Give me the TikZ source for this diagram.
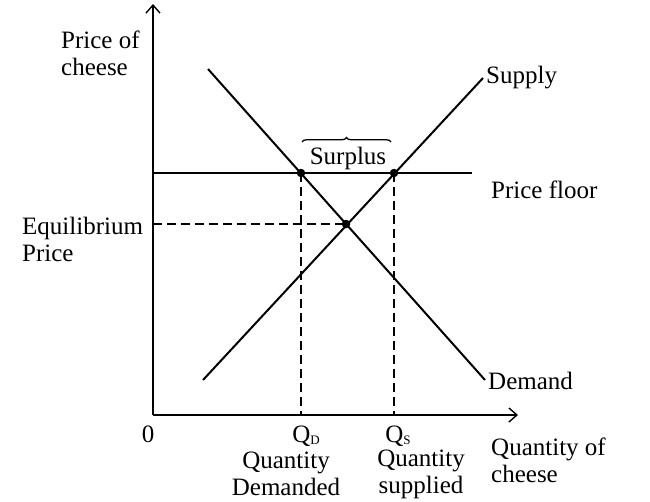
\documentclass[tikz,border=0pt]{standalone}
\usepackage{fontspec}
\setmainfont{Liberation Serif}
\usetikzlibrary{arrows.meta,decorations.pathreplacing}
\newcommand{\subsm}[1]{\raisebox{-2.5pt}{\fontsize{13}{13}\selectfont #1}}
\begin{document}
\begin{tikzpicture}[x=1pt,y=-1pt,
  curve/.style={line width=2pt},
  guide/.style={line width=1.8pt,dash pattern=on 9pt off 5pt},
  axis/.style={line width=2pt,-{Straight Barb[length=8pt,width=14pt,line width=1.4pt]}},
  dot/.style={circle,fill=black,inner sep=0pt,minimum size=8.5pt},
  lbl/.style={inner sep=0pt,font=\fontsize{25}{27}\selectfont}]
\useasboundingbox (0,0) rectangle (650,501);
% coordinates
\coordinate (O) at (153,415);
\coordinate (ytop) at (153,4);
\coordinate (xend) at (518,415);
\coordinate (s1) at (203,380);
\coordinate (s2) at (483,78);
\coordinate (d1) at (208,69);
\coordinate (d2) at (485,380);
\coordinate (pf0) at (153,173);
\coordinate (pf1) at (472,173);
\coordinate (e0) at (153,224);
\coordinate (qdb) at (301,415);
\coordinate (qsb) at (394,415);
\coordinate (b1) at (302,142);
\coordinate (b2) at (391,142);
% axes
\draw[axis] (O) -- (ytop);
\draw[axis] (O) -- (xend);
% price floor
\draw[curve] (pf0) -- (pf1);
% curves
\draw[curve] (s1) -- (s2);
\draw[curve] (d1) -- (d2);
% dots
\node[dot] (qd) at (301,173) {};
\node[dot] (qs) at (394,173) {};
\node[dot] (eq) at (346,224) {};
% dashed
\draw[guide] (qd.center) -- (qdb);
\draw[guide] (qs.center) -- (qsb);
\draw[guide] (e0) -- (eq.center);
% brace
\draw[line width=1.3pt,decorate,decoration={brace,amplitude=4.5pt}] (b1) -- (b2);
% labels
\node[lbl,align=left,anchor=west] (pc) at (61,53) {Price of\\cheese};
\node[lbl,anchor=west] (sup) at (486,78) {Supply};
\node[lbl,anchor=west] (pfl) at (491,190) {Price floor};
\node[lbl,align=left,anchor=west] (ep) at (22,239) {Equilibrium\\Price};
\node[lbl,anchor=west] (dem) at (488,381) {Demand};
\node[lbl] (surp) at (348,158) {Surplus};
\node[lbl] (zero) at (148,434) {0};
\node[lbl] (qdl) at (306,436) {Q\subsm{D}};
\node[lbl] (qsl) at (398,436) {Q\subsm{S}};
\node[lbl,align=center] (qdem) at (286,474) {Quantity\\Demanded};
\node[lbl,align=center] (qsup) at (421,474) {Quantity\\supplied};
\node[lbl,align=left,anchor=west] (qch) at (491,460) {Quantity of\\cheese};
\end{tikzpicture}
\end{document}
